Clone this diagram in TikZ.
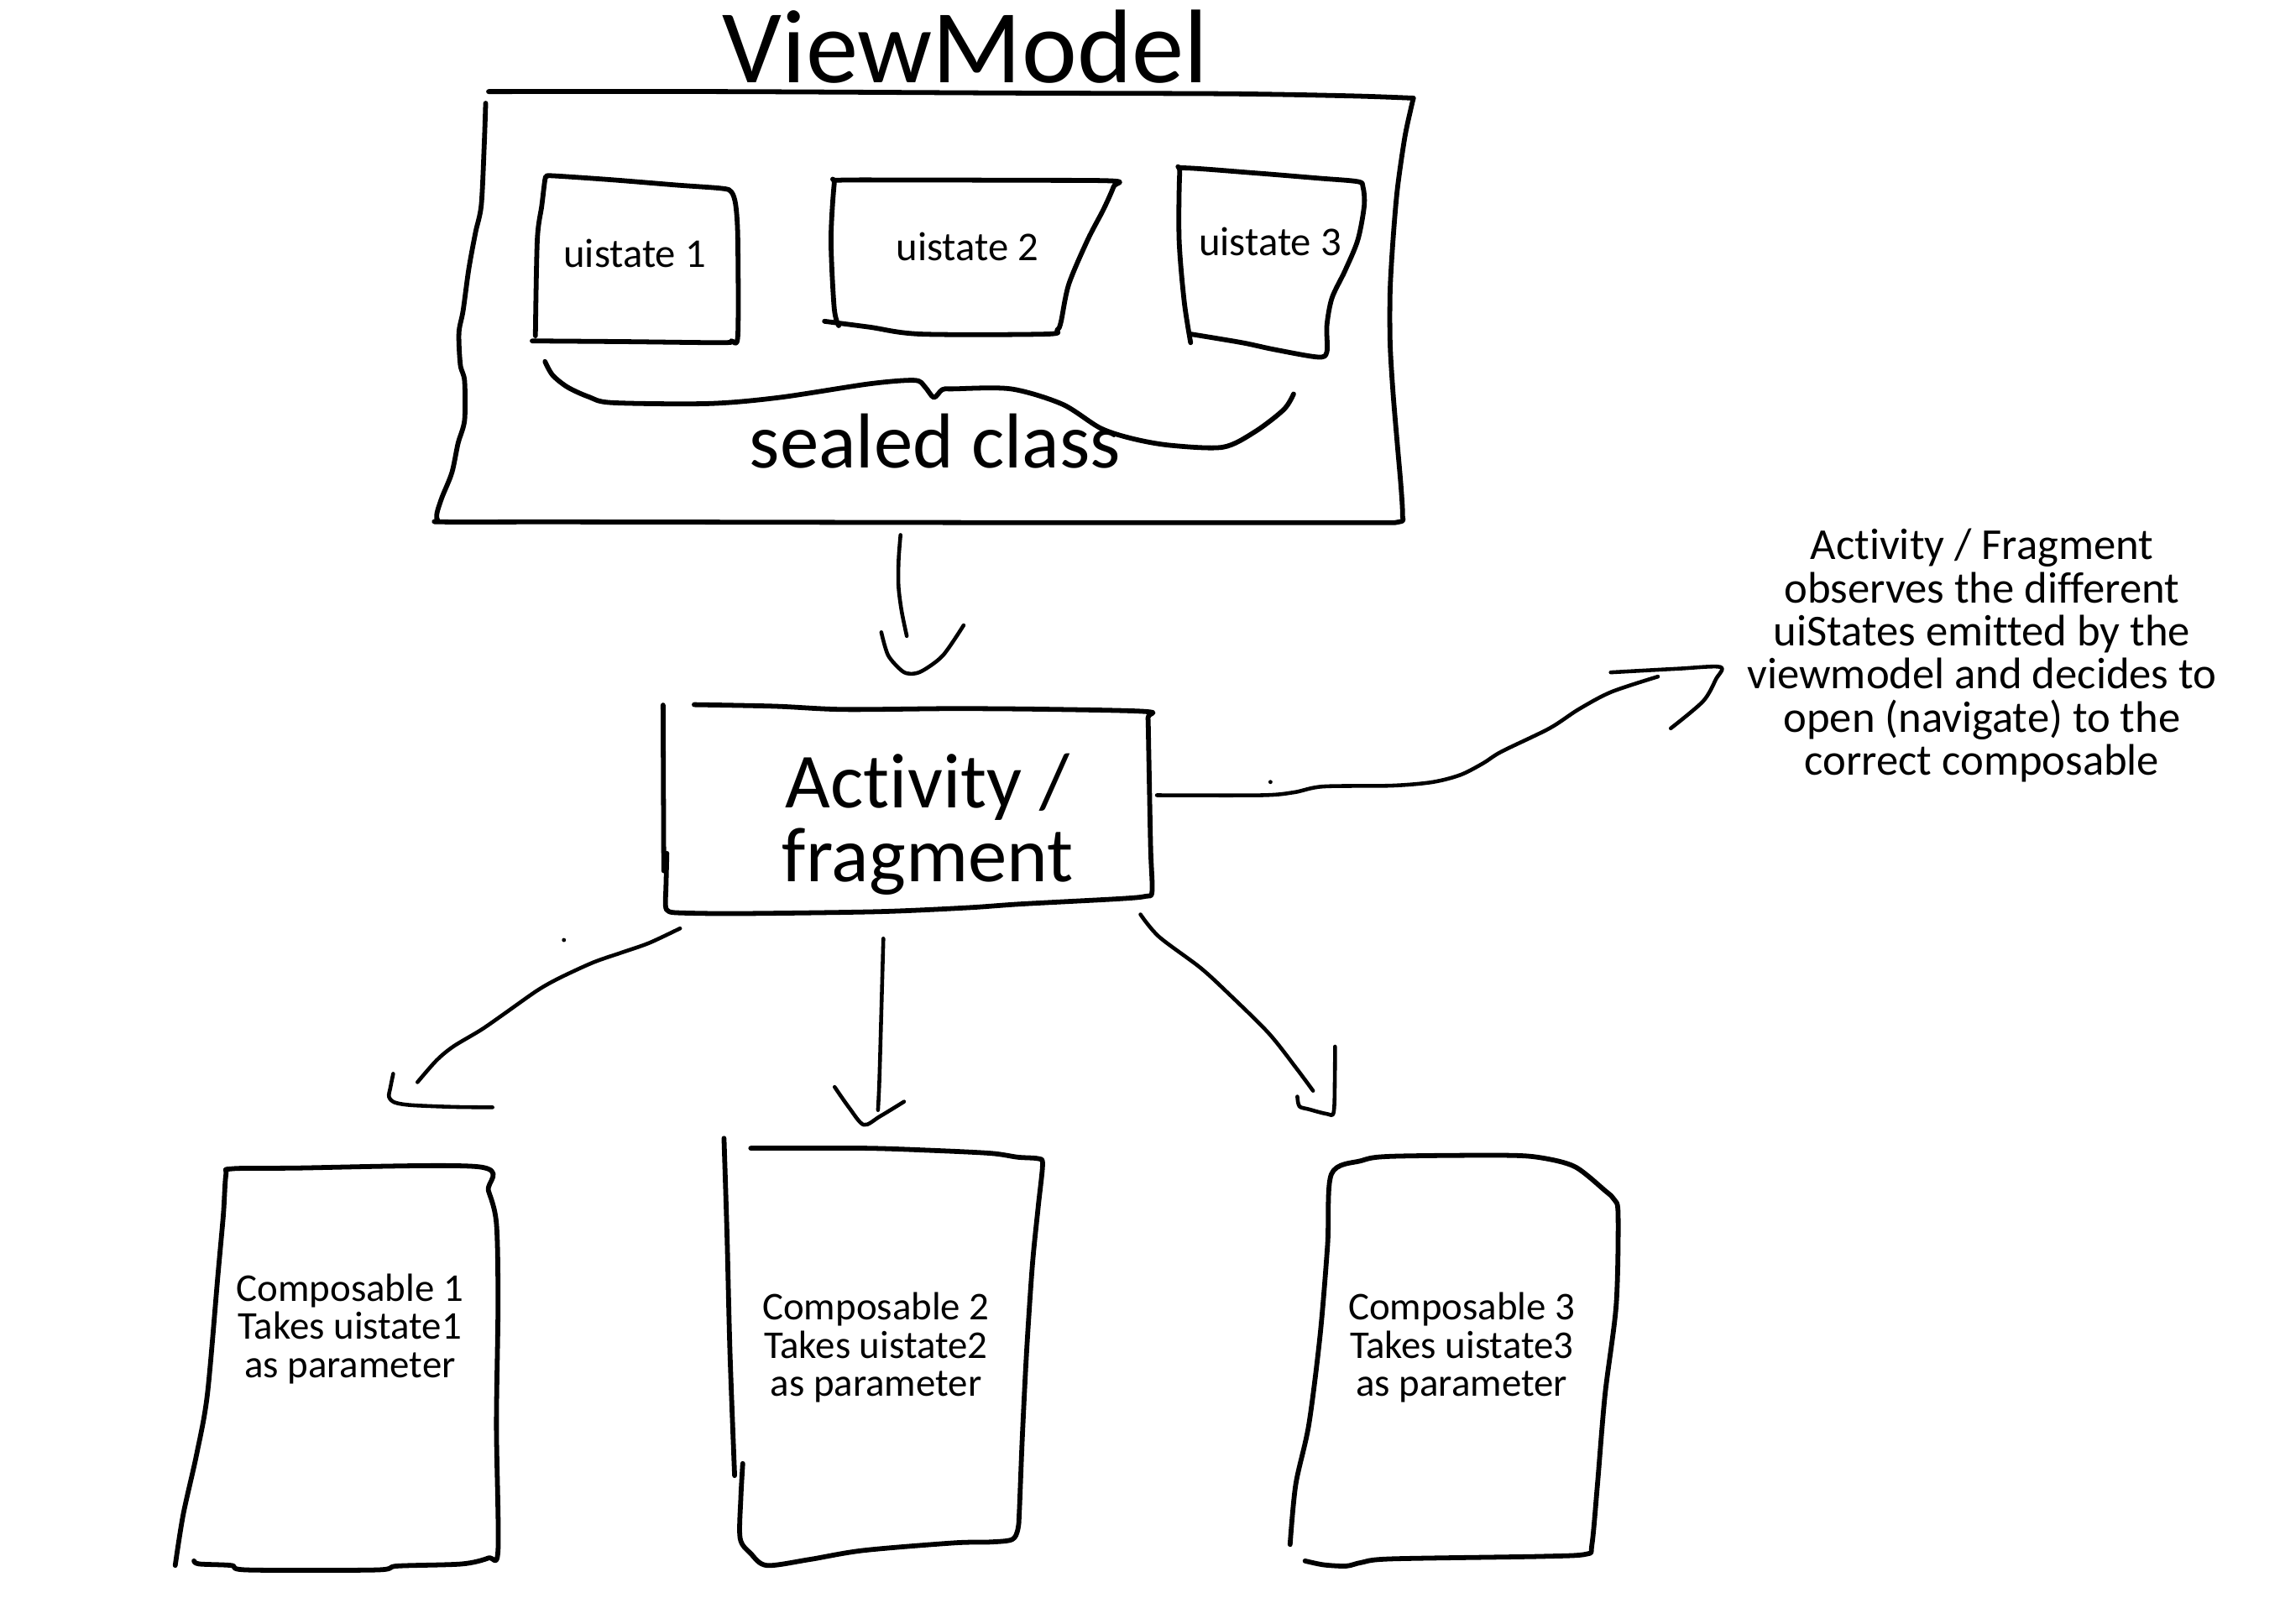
\documentclass[tikz,border=0pt]{standalone}
\usepackage{fontspec}
\setmainfont{Carlito}[Ligatures={NoCommon,NoContextual}]

\begin{document}
\begin{tikzpicture}[
  x=0.02cm, y=-0.02cm,
  pen/.style={line width=1.9pt, line cap=round, line join=round},
  arrowpen/.style={line width=1.5pt, line cap=round, line join=round},
  title/.style={font=\fontsize{41}{44}\selectfont, inner sep=0pt, anchor=base},
  bigtext/.style={font=\fontsize{30.5}{29}\selectfont, inner sep=0pt, align=center},
  statetext/.style={font=\fontsize{16}{18}\selectfont, inner sep=0pt, anchor=base},
  composetext/.style={font=\fontsize{15.4}{15}\selectfont, inner sep=0pt, align=center},
  notetext/.style={font=\fontsize{17.3}{16.9}\selectfont, inner sep=0pt, align=center},
  speck/.style={circle, fill, inner sep=0pt, minimum size=1.6pt} % stray pen dots
]
\useasboundingbox (0,0) rectangle (1568,1117);

  % --- TEXTS ---
  \node[title] (vmtitle) at (664,57) {ViewModel};
  \node[statetext] (ui1) at (436.5,184) {uistate 1};
  \node[statetext] (ui2) at (665.3,179) {uistate 2};
  \node[statetext] (ui3) at (873.5,175.6) {uistate 3};
  \node[bigtext, anchor=base] (sealed) at (643,322) {sealed class};
  \node[bigtext] (actfrag) at (638,567) {Activity /\\fragment};
  \node[notetext] (note) at (1363,451) {Activity / Fragment\\observes the different\\uiStates emitted by the\\viewmodel and decides to\\open (navigate) to the\\correct composable};
  \node[composetext] (comp1) at (240.7,914) {Composable 1\\Takes uistate1\\as parameter};
  \node[composetext] (comp2) at (602.4,927) {Composable 2\\Takes uistate2\\as parameter};
  \node[composetext] (comp3) at (1005.2,927) {Composable 3\\Takes uistate3\\as parameter};

  % --- VIEWMODEL FRAME ---
  \draw[pen] plot[smooth, tension=0.5] coordinates {(336,63) (500,63) (700,64) (845,64.5) (930,66) (972,67.5)};
  \draw[pen] plot[smooth, tension=0.5] coordinates {(972,67.5) (970,76) (966,95) (961,130) (958,165) (956,200) (956,236) (958,270) (961,306) (963.5,335) (964.5,354) (962,359) (930,359.5) (700,359.5) (400,359) (306,359) (301,358) (300.5,353) (304,342) (310.8,325) (315,305) (319.5,289) (319.5,262) (316.6,251) (315.6,229) (318.5,213.6) (322.4,185) (327,160) (331,141) (333,100) (334,71)};

  % uistate boxes
  \draw[pen] plot[smooth, tension=0.5] coordinates {(366,234.5) (430,235) (496.4,235.7) (503,234.5) (507.4,231) (507.4,165) (506,141.4) (503,132) (496.4,129.6) (465.4,127.3) (421.2,123.7) (380,120.9) (376,121.5) (374.8,123.5) (372.6,141.4) (369.5,165) (368.2,231)};
  \draw[pen] plot[smooth, tension=0.5] coordinates {(567,221) (598,225) (633.3,229.8) (719.5,229.8) (727,227) (729.6,221.6) (735,195.6) (748,165) (759,143.8) (765.8,128.5) (765.8,124.5) (700,124) (620,123.8) (576,124) (573.7,126.5) (571.5,165) (573.7,212) (576.8,224)};
  \draw[pen] plot[smooth, tension=0.5] coordinates {(818.8,235.7) (814.4,207.4) (810.9,165) (811.3,119) (814,115.5) (863,119) (907,122.6) (933.7,124.9) (937.3,128.5) (938.2,141.4) (933.8,165) (925,186.2) (916,205) (912.5,224) (912.5,242) (906.3,245.6) (876.3,240.4) (854.2,235.7) (818.8,229.8)};

  % brace under the states
  \draw[pen] plot[smooth, tension=0.5] coordinates {(374.8,248.7) (380,258) (390.3,266.3) (405,273) (421.2,277) (487.5,277.6) (536.1,273.4) (598,264) (629,261.6) (636,266) (642.2,273.4) (648,268) (655.4,267.5) (695.2,267.5) (730.5,278) (757,294.6) (780,302) (805.6,306.4) (841,307.6) (863,297) (882.9,281.7) (889.6,271)};

  % --- ACTIVITY / FRAGMENT BOX ---
  \draw[pen] (456,485) -- (456.5,599);
  \draw[pen] plot[smooth, tension=0.5] coordinates {(458.6,587) (458,610) (457.7,623) (460,627) (470,628) (509.5,628.4) (603.8,627.1) (665,624.4) (702.7,621.8) (768.7,618.3) (788,616.5) (792.3,613) (791.3,583.3) (790,517) (789.5,494) (788.5,489.5) (721.6,487.9) (655.6,487.4) (580.2,488) (533,485.8) (477.4,484.7)};

  % --- COMPOSABLE BOXES ---
  \draw[pen] plot[smooth, tension=0.5] coordinates {(120.5,1076.8) (126,1041.8) (135.2,1000.5) (142.6,959.3) (149.9,876.8) (153.6,835.6) (155.4,808) (159,804) (200,803.5) (329.2,802.6) (335.9,819) (341.4,841.7) (342.5,897.4) (341.4,979.9) (342.5,1066.5) (335.9,1071.7) (317.5,1075.8) (273.3,1077.2) (258.6,1079.9) (170.2,1079.9) (159.1,1076.8) (137,1075.8) (133.4,1073.7)};
  \draw[pen] plot[smooth, tension=0.5] coordinates {(497.9,783) (500,850) (502,930) (505.2,1015)};
  \draw[pen] plot[smooth, tension=0.5] coordinates {(510.8,1006.7) (509.5,1030) (509,1058.2) (516.3,1068.6) (527.3,1076.8) (556.8,1072.7) (593.6,1066.5) (656.2,1061.3) (681.2,1060.7) (696,1059) (700,1052) (701,1040) (703,990) (706,930) (710,870) (714,830) (717,801) (714,797) (700,796) (681.2,793.3) (637.8,791.2) (593.6,789.8) (516.3,789.8)};
  \draw[pen] plot[smooth, tension=0.5] coordinates {(887.2,1062.4) (891.1,1021.1) (900.1,980) (907.9,918) (913,856.2) (915.6,807.7) (936.2,798.4) (956.8,795.4) (1034.2,794.7) (1060,796.4) (1083.2,802.6) (1103.8,819) (1110.2,825.2) (1112.8,835.6) (1111.5,897.4) (1103.8,959.3) (1098.6,1021.1) (1094.8,1062.4) (1091,1069) (1060,1070.6) (956.8,1072.3) (936.2,1074.8) (925.9,1077.2) (910.4,1076.4) (897.5,1073.7)};

  % --- ARROWS ---
  \coordinate (vmout) at (619.3,368);
  \coordinate (afin) at (626.4,463.5);
  \coordinate (afright) at (795.6,547);
  \coordinate (notein) at (1183,458.8);
  \coordinate (afleft) at (467.7,638.6);
  \coordinate (c1in) at (267.5,754.4);
  \coordinate (afdown) at (607.5,645.6);
  \coordinate (c2in) at (594,773.7);
  \coordinate (afdiag) at (784.3,629);
  \coordinate (c3in) at (917.2,765);

  % ViewModel -> Activity / fragment
  \draw[arrowpen] plot[smooth, tension=0.5] coordinates {(vmout) (618,385) (617.9,403) (620,420) (623.6,437.5)};
  \draw[arrowpen] plot[smooth, tension=0.5] coordinates {(606.1,434.9) (610.8,450.8) (620.2,461.4) (afin) (634.4,461.4) (648.5,450.8) (662.7,430.1)};

  % Activity / fragment -> note
  \draw[arrowpen] plot[smooth, tension=0.5] coordinates {(afright) (867.7,547) (890,545) (910,541) (957.2,540.4) (985,538) (1004.4,533) (1020,525) (1032.6,517) (1065.6,501) (1085.5,488) (1108,476) (1140.2,465.4)};
  \draw[arrowpen] plot[smooth, tension=0.5] coordinates {(1107.7,462.5) (1153.5,460) (notein) (1180,467.3) (1171.2,482.4) (1149,501)};

  % Activity / fragment -> composables
  \draw[arrowpen] plot[smooth, tension=0.5] coordinates {(afleft) (446.5,648.6) (427.3,655.3) (408,662) (385,672.6) (369.5,681.3) (346.4,697.6) (331,708.3) (311.8,719.8) (300.2,729.4) (287.1,744.4)};
  \draw[arrowpen] plot[smooth, tension=0.5] coordinates {(270.4,738.6) (268.5,748) (c1in) (271.4,758.3) (282.9,760.2) (311.8,761.4) (338.7,761.7)};

  \draw[arrowpen] plot[smooth, tension=0.5] coordinates {(afdown) (606,700) (604.7,745) (603.8,763.6)};
  \draw[arrowpen] plot[smooth, tension=0.5] coordinates {(574,747.7) (584,762) (c2in) (605,768) (621.7,757.8)};

  \draw[arrowpen] plot[smooth, tension=0.5] coordinates {(afdiag) (797,644.3) (825.3,665.5) (844.1,682.7) (872.4,710.6) (891.2,734.4) (903,750.3)};
  \draw[arrowpen] plot[smooth, tension=0.5] coordinates {(918.1,719.9) (918,740) (c3in) (912.5,766.2) (900,763) (893.6,761) (892.2,754.3)};

  % stray dots
  \node[speck] (dotleft) at (387.8,646.6) {};
  \node[speck] (dotright) at (873.7,537.9) {};

\end{tikzpicture}
\end{document}
